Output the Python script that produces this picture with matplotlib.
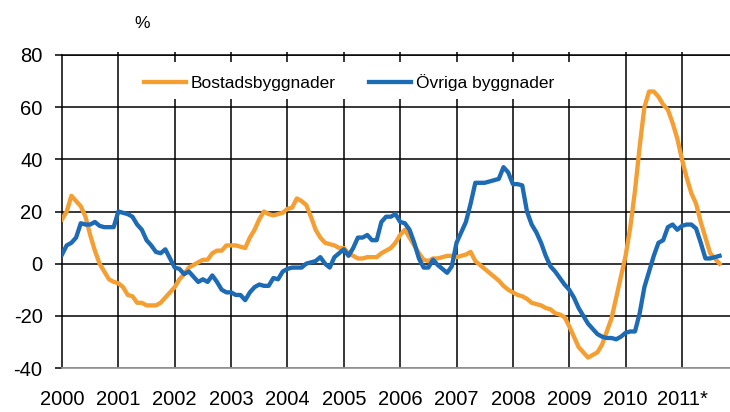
import numpy as np
import matplotlib
matplotlib.use("Agg")
import matplotlib.pyplot as plt
from matplotlib.patches import Rectangle

plt.rcParams['font.family'] = ['Liberation Sans', 'DejaVu Sans']
plt.rcParams['axes.unicode_minus'] = False

# monthly year-on-year change (%), Jan 2000 - Sep 2011
bostad = [17, 20, 26, 24, 22, 18, 11, 5, 0, -3, -6, -7,
          -7.5, -9, -12, -12.5, -15, -15, -16, -16, -16, -15, -13, -11,
          -9, -6, -4, -1.5, -0.5, 0.5, 1.5, 1.5, 4, 5, 5, 7,
          7, 7, 6.5, 6, 10, 13, 17, 20, 19, 18.5, 19, 19.5,
          21, 21.5, 25, 24, 22.5, 18, 13, 10, 8, 7.5, 7, 6,
          6, 4, 3, 2, 2, 2.5, 2.5, 2.5, 4, 5, 6, 8,
          11, 13, 10, 7, 4, 1.5, 1, 2, 2, 2.5, 3, 3,
          2.5, 3, 3.5, 4.5, 1, -0.5, -2, -3.5, -5, -6.5, -8.5, -10,
          -11, -12, -12.5, -13.5, -15, -15.5, -16, -17, -17.5, -19, -19.5, -20.5,
          -24, -28, -32, -34, -36, -35, -34, -31, -26, -21, -13, -5,
          3, 14, 28, 45, 60, 66, 66, 64, 61, 59, 54, 48,
          40, 33, 27, 23, 16, 10, 4, 2, 0]
ovriga = [3.5, 7, 8, 10, 15.5, 15, 15, 16, 14.5, 14, 14, 14,
          20, 19.5, 19, 18, 15, 13, 9, 7, 4.5, 4, 5.5, 2,
          -1.5, -2, -4, -3, -5, -7, -6, -7, -4.5, -7, -10, -11,
          -11, -12, -12, -14, -11, -9, -8, -8.5, -8.5, -5.5, -6, -3,
          -2, -1.5, -1.5, -1.5, 0, 0.5, 1, 2.5, 0, -1.5, 2.5, 4,
          5.5, 3, 6, 10, 10, 11, 9, 9, 16, 18, 18, 19,
          16, 15.5, 13, 8, 2, -1.5, -1.5, 1.5, -0.5, -2, -3.5, -1,
          8, 12, 16, 23, 31, 31, 31, 31.5, 32, 32.5, 37, 35,
          30.5, 30.5, 30, 20, 15, 12, 8, 3, -1, -3, -5.5, -8,
          -10, -13, -17, -20, -23, -25, -27, -28, -28.5, -28.5, -29, -28,
          -26.5, -26, -26, -19, -9, -3, 3, 8, 9, 14, 15, 13,
          14.5, 15, 15, 13.5, 8, 2, 2, 2.5, 3]

years = ['2000', '2001', '2002', '2003', '2004', '2005', '2006',
         '2007', '2008', '2009', '2010', '2011*']
yticks = [-40, -20, 0, 20, 40, 60, 80]

orange = '#F59E32'
blue = '#1D6BB4'

W, H = 730, 412
fig = plt.figure(figsize=(W / 100, H / 100), dpi=100)
ax = fig.add_axes([62 / W, (H - 368) / H, (W - 62) / W, (368 - 55) / H])

months = np.arange(len(bostad))
year_pos = np.arange(len(years)) * 12

ax.plot(months, bostad, color=orange, lw=3.1, solid_joinstyle='round', zorder=3,
        label='Bostadsbyggnader')
ax.plot(months, ovriga, color=blue, lw=3.1, solid_joinstyle='round', zorder=4,
        label='Övriga byggnader')

ax.set_xlim(0, (W - 62) / (56.36 / 12))
ax.set_ylim(-40, 80)
ax.set_yticks(yticks)
ax.set_yticklabels([str(v) for v in yticks])
ax.set_xticks(year_pos)
ax.set_xticklabels(years)

ax.set_axisbelow(True)
ax.grid(True, axis='y', color='black', lw=1.1)
# vertical year lines, poking a little above the top line
ax.vlines(year_pos[1:], -40, 81.2, color='black', lw=1.1, zorder=0.8, clip_on=False)
ax.tick_params(axis='y', direction='out', length=5, width=1.1, pad=9,
               labelsize=14.5, color='black')
ax.tick_params(axis='x', bottom=False, top=False, pad=12, labelsize=14.5)

ax.spines['right'].set_visible(False)
ax.spines['left'].set_linewidth(1.1)
ax.spines['top'].set_linewidth(1.1)
ax.spines['bottom'].set_color('#9a9a9a')
ax.spines['bottom'].set_linewidth(1.3)

# white legend area covering the gridlines
x0 = (128 - 62) / (W - 62)
x1 = (590 - 62) / (W - 62)
y0 = (368 - 99) / (368 - 55)
y1 = (368 - 62) / (368 - 55)
ax.add_patch(Rectangle((x0, y0), x1 - x0, y1 - y0, transform=ax.transAxes,
                       facecolor='white', edgecolor='none', zorder=1))

ax.legend(loc='center left', bbox_to_anchor=((144 - 62) / (W - 62), (368 - 83) / (368 - 55)),
          ncol=2, frameon=False, fontsize=12.5, handlelength=2.4,
          handletextpad=0.3, columnspacing=1.9, borderaxespad=0, borderpad=0)

fig.text(142 / W, 1 - 24 / H, '%', fontsize=12.5, ha='center', va='center')

fig.savefig('out.png', dpi=100)
